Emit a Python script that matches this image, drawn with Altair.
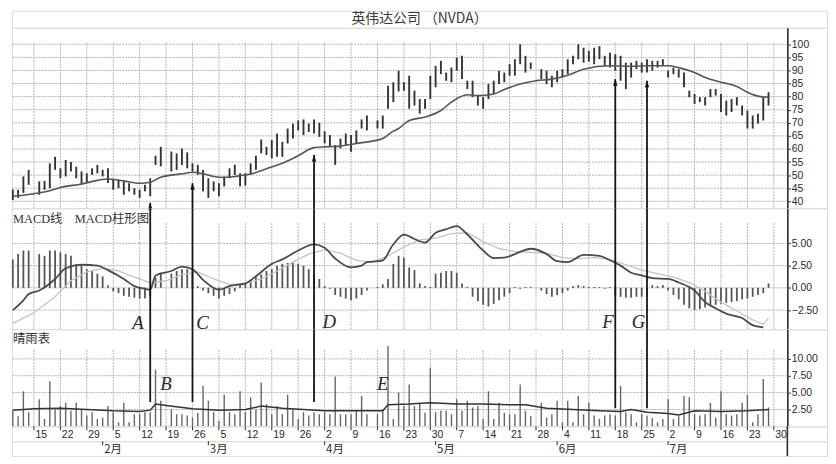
import altair as alt
import pandas as pd

# ---------------- data (trading-day index 0 = 2001-01-08, weekdays only) ----------------
TITLE = "英伟达公司 （NVDA）"
MACD_LABEL = "MACD线\u00a0\u00a0\u00a0\u00a0MACD柱形图"
BARO_LABEL = "晴雨表"
FIRST_IDX = 1

price_high = [44.5, 44.4, 49.5, 52.0, None, 47.6, 47.8, 54.5, 57.0, 52.6, 55.8, 55.0, 53.2, 51.4, 50.7, 52.6,
              53.9, 52.0, 52.6, 48.2, 48.2, 47.6, 46.9, 45.0, 44.4, 46.3, 48.8, 57.4, 60.8, None, 59.0, 58.3,
              60.2, 58.7, 54.5, 53.9, 52.0, 48.8, 47.6, 46.9, 49.5, 52.6, 54.0, 50.7, 50.7, 54.5, 57.4, 63.6,
              60.8, 63.4, 65.9, 62.7, 67.8, 69.7, 70.9, 71.3, 69.7, 71.3, 70.0, 66.8, 65.3, 61.5, 64.0, 65.9,
              65.3, 67.1, 71.3, 72.8, None, 70.9, 72.8, 84.2, 85.5, 89.9, 85.5, 88.0, 82.3, 79.1, 79.1, 88.0,
              91.8, 93.7, 89.2, 91.1, 94.9, 95.6, 86.1, 86.1, 80.4, 79.8, 84.8, 86.1, 89.9, 89.2, 92.4, 94.3,
              100.0, 95.6, 93.0, None, 90.5, 89.9, 88.0, 89.9, 90.5, 94.3, 95.6, 100.0, 98.7, 97.5, 98.7, 99.3,
              95.6, 96.8, 96.2, 95.6, 93.0, 93.0, 93.7, 93.0, 94.3, 93.7, 93.7, 94.3, 89.9, 91.1, 90.5, 89.2,
              82.3, 81.0, 79.8, 79.8, 82.9, 82.9, 81.0, 78.5, 79.1, 79.8, 76.6, 74.7, 72.8, 73.5, 79.8, 81.7]
price_low = [40.5, 41.3, 43.2, 46.3, None, 42.5, 44.4, 45.0, 52.0, 48.8, 49.5, 51.4, 48.8, 46.3, 47.0, 50.1,
             50.7, 49.5, 47.0, 44.4, 45.0, 42.5, 43.8, 42.5, 41.3, 43.8, 41.9, 53.9, 53.3, None, 51.4, 52.0,
             53.9, 52.6, 51.4, 50.1, 43.8, 41.3, 43.8, 41.9, 45.7, 48.8, 50.1, 45.7, 46.0, 50.1, 52.0, 58.3,
             57.7, 56.4, 57.0, 57.0, 62.1, 64.0, 67.1, 65.3, 66.5, 65.9, 64.6, 62.1, 60.8, 53.9, 60.2, 61.5,
             58.9, 62.1, 67.8, 67.1, None, 67.8, 67.8, 75.4, 77.9, 82.0, 82.3, 75.4, 76.6, 73.5, 75.4, 79.1,
             83.6, 88.6, 86.1, 85.5, 89.9, 86.7, 82.9, 79.8, 76.6, 75.4, 79.1, 81.1, 84.8, 85.5, 88.0, 88.0,
             92.4, 89.2, 90.5, None, 86.7, 84.8, 83.6, 85.5, 87.3, 88.6, 92.4, 94.3, 93.0, 93.4, 92.4, 94.3,
             91.8, 91.1, 89.9, 86.1, 82.9, 87.3, 90.5, 89.2, 89.2, 89.9, 91.1, 91.8, 87.3, 88.6, 87.3, 83.6,
             79.8, 77.2, 77.9, 76.6, 79.8, 80.4, 74.1, 72.8, 74.1, 76.6, 72.8, 67.8, 67.8, 69.7, 70.9, 76.6]

ma_idx = [1, 5, 8, 10, 14, 17, 19, 22, 25, 27, 29, 33, 35, 37, 39, 41, 43, 46, 49, 52, 55, 58, 61, 63, 66,
          69, 71, 73, 74, 76, 79, 82, 84, 87, 89, 92, 94, 97, 100, 103, 106, 109, 114, 118, 121, 125, 127,
          130, 132, 135, 138, 140, 142, 144]
ma_val = [41.9, 42.9, 44.0, 45.3, 46.6, 48.0, 48.5, 47.8, 46.9, 47.3, 49.2, 50.5, 51.1, 50.5, 49.5, 49.1,
          49.5, 50.4, 52.4, 54.5, 57.4, 60.5, 60.9, 61.1, 62.1, 63.0, 64.0, 66.8, 67.8, 70.9, 72.2, 74.7,
          77.9, 80.7, 80.4, 81.0, 82.7, 84.8, 86.1, 86.7, 88.2, 90.5, 91.8, 91.6, 91.8, 91.8, 91.1, 89.2,
          87.3, 85.5, 83.9, 81.7, 80.2, 79.8]

macd_idx = [1, 3, 4, 6, 9, 11, 14, 17, 19, 22, 24, 26, 27, 28, 31, 33, 35, 37, 40, 42, 45, 47, 50, 52, 55,
            58, 60, 62, 65, 67, 68, 70, 71, 73, 75, 76, 77, 79, 81, 83, 85, 87, 90, 92, 94, 97, 99, 102, 104,
            106, 109, 112, 114, 116, 118, 120, 122, 125, 127, 130, 132, 134, 136, 139, 141, 143]
macd_val = [-2.5, -1.4, -0.7, -0.3, 1.0, 2.2, 2.6, 2.5, 2.0, 1.0, 0.2, -0.1, -0.2, 1.4, 1.9, 2.4, 2.1, 0.9,
            -0.2, 0.2, 0.5, 1.3, 2.7, 3.2, 4.2, 4.9, 4.5, 3.3, 2.3, 2.5, 2.9, 3.0, 3.1, 4.9, 6.0, 5.8, 5.5,
            5.1, 6.2, 6.6, 6.95, 6.0, 4.2, 3.35, 3.4, 4.05, 4.4, 3.8, 3.0, 2.9, 3.7, 3.6, 3.1, 2.5, 1.7, 1.4,
            1.1, 1.0, 0.6, -0.3, -1.6, -2.3, -2.9, -3.4, -4.2, -4.45]

signal_idx = [1, 5, 9, 12, 15, 18, 21, 24, 27, 30, 33, 36, 39, 42, 45, 48, 51, 54, 57, 60, 63, 66, 69, 72,
              75, 78, 81, 84, 87, 90, 93, 96, 99, 102, 105, 108, 111, 114, 117, 120, 123, 126, 129, 132,
              135, 138, 141, 143, 144]
signal_val = [-4.0, -2.8, -1.0, 0.8, 1.8, 2.2, 1.9, 1.2, 0.6, 0.8, 1.5, 1.8, 1.0, 0.4, 0.5, 1.0, 1.9, 2.9,
              3.8, 4.3, 3.9, 3.1, 2.9, 3.6, 4.6, 5.4, 5.6, 6.1, 6.2, 5.2, 4.4, 4.1, 4.0, 3.9, 3.4, 3.3, 3.4,
              3.2, 2.6, 2.0, 1.6, 1.2, 0.6, -0.4, -1.6, -2.6, -3.6, -4.1, -3.4]

hist_val = [3.2, 3.8, 4.2, 4.2, None, 3.8, 3.6, 4.2, 4.2, 4.0, 3.8, 3.6, 2.7, 2.5, 2.1, 1.9, 1.6, 1.3, 0.3,
            -0.4, -0.6, -0.9, -1.0, -1.1, -1.2, -1.2, -0.9, 1.2, 1.7, None, 1.6, 1.9, 2.1, 2.1, 1.9, 0.2,
            -0.3, -0.6, -0.9, -1.2, -0.9, -0.7, -0.4, 0.3, 0.5, 0.9, 1.2, 1.5, 1.9, 2.1, 2.5, 2.7, 2.8, 2.8,
            2.7, 2.5, 2.1, 1.6, 1.0, 0.2, -0.1, -0.8, -1.0, -1.2, -1.4, -1.2, -0.8, -0.3, None, 0.1, 0.4, 1.0,
            2.7, 3.6, 3.4, 2.3, 2.0, 0.5, 0.2, 0.1, 1.6, 1.7, 1.9, 1.9, 1.7, 0.5, 0.1, -1.0, -1.5, -1.9, -2.1,
            -1.8, -1.4, -1.0, -0.6, 0.1, -0.1, 0.1, 0.1, None, -0.3, -0.7, -1.0, -0.8, -0.6, -0.3, 0.2, 0.3,
            0.2, 0.1, 0.1, 0.1, -0.1, 0.1, -0.9, -1.0, -1.1, -1.1, -1.0, -1.0, -1.0, 0.3, 0.2, 0.3, -0.3,
            -0.8, -1.3, -1.9, -2.3, -2.5, -2.4, -2.2, -2.0, -1.9, -1.8, -1.7, -1.6, -1.5, -1.3, -1.2, -1.0,
            -0.8, -0.6, 0.5]

baro_val = [2.3, 1.5, 5.2, 2.1, None, 4.0, 1.1, 6.7, 2.5, 3.0, 3.5, 2.3, 3.5, 2.5, 1.6, 2.1, 1.1, 1.3, 3.0,
            2.1, 0.6, 3.5, 0.6, 1.8, 1.8, 2.1, 2.1, 8.4, 3.8, None, 2.5, 1.8, 1.8, 1.6, 1.3, 2.0, 6.0, 3.8,
            2.1, 0.8, 4.7, 2.1, 1.8, 5.2, 2.1, 4.3, 2.5, 6.5, 3.3, 1.8, 3.0, 1.8, 4.7, 2.5, 1.1, 2.1, 1.6,
            2.1, 1.8, 2.1, 1.8, 7.4, 1.8, 1.8, 1.8, 2.3, 4.5, 1.8, None, 1.8, 2.5, 11.9, 1.1, 5.0, 3.0, 6.2,
            3.0, 3.5, 2.0, 8.7, 2.1, 2.3, 2.3, 1.8, 4.0, 2.3, 3.8, 2.8, 3.0, 1.1, 5.2, 1.1, 3.5, 2.0, 1.8,
            1.8, 6.2, 2.3, 1.5, None, 3.5, 1.3, 1.8, 3.8, 0.6, 3.8, 0.6, 4.5, 1.8, 3.5, 1.6, 1.1, 1.6, 1.8,
            1.6, 6.0, 2.1, 1.8, 0.6, 1.8, 1.6, 1.2, 0.6, 1.1, 4.0, 1.1, 1.5, 4.5, 4.3, 1.8, 1.6, 1.8, 3.5,
            1.3, 5.2, 1.8, 1.6, 1.8, 3.5, 4.7, 0.6, 1.8, 7.0, 2.8]

baro_line_idx = [1, 5, 10, 15, 20, 25, 27, 28, 30, 35, 40, 45, 48, 52, 56, 60, 65, 71, 72, 76, 80, 85, 90,
                 95, 98, 102, 107, 112, 116, 118, 121, 125, 127, 130, 135, 140, 144]
baro_line_val = [2.4, 2.6, 2.7, 2.5, 2.3, 2.2, 2.4, 3.3, 3.1, 2.6, 2.4, 2.5, 3.0, 2.7, 2.5, 2.3, 2.3, 2.3,
                 3.2, 3.3, 3.5, 3.3, 3.3, 3.2, 3.2, 2.7, 2.5, 2.3, 2.2, 2.5, 2.1, 1.9, 1.7, 2.3, 2.2, 2.3, 2.5]

week_idx = [5, 10, 15, 20, 25, 30, 35, 40, 45, 50, 55, 60, 65, 70, 75, 80, 85, 90, 95, 100, 105, 110, 115,
            120, 125, 130, 135, 140, 145]
day_labels = ["15", "22", "29", "5", "12", "19", "26", "5", "12", "19", "26", "2", "9", "16", "23", "30",
              "7", "14", "21", "28", "4", "11", "18", "25", "2", "9", "16", "23", "30"]
month_idx = [18, 38, 60, 81, 104, 125]
month_labels = ["2月", "3月", "4月", "5月", "6月", "7月"]

price_ticks = [40, 45, 50, 55, 60, 65, 70, 75, 80, 85, 90, 95, 100]
macd_ticks = [-2.5, 0.0, 2.5, 5.0]
baro_ticks = [2.5, 5.0, 7.5, 10.0]

arrow_idx = [27, 35, 58, 115, 121]
arrow_tip = [39.4, 46.9, 57.7, 86.7, 86.1]
arrow_base = [3.6, 3.6, 3.6, 2.7, 2.7]

macd_letters = ["A", "C", "D", "F", "G"]
macd_letter_idx = [24.7, 36.9, 60.9, 113.6, 119.4]
macd_letter_val = [-3.95, -3.95, -3.8, -3.8, -3.8]
baro_letters = ["B", "E"]
baro_letter_idx = [30.0, 71.0]
baro_letter_val = [6.2, 6.2]

# ---------------- layout constants ----------------
W = 822
PLOT_W = 782
H_TITLE, H_PRICE, H_MACD, H_BARO, H_ROW = 17, 182, 122, 98, 15
PX_DAY = 5.33
X_MIN = 0.84
X_MAX = X_MIN + W / PX_DAY
AXIS_X = X_MIN + PLOT_W / PX_DAY

P_MIN, P_MAX, P_GRID_TOP = 37.35, 106.33, 101.0
M_MIN, M_MAX, M_GRID_TOP = -4.65, 8.96, 7.3
B_MIN, B_MAX, B_GRID_TOP = 0.0, 14.4, 11.4

INK = "#2a2a2a"
GRID = "#b4b4b4"
NUM_FONT = "Liberation Sans Narrow, Liberation Sans, Arial"
CJK_FONT = "Noto Sans CJK SC"
SERIF = "Liberation Serif, Noto Sans CJK SC"

# ---------------- frames ----------------
days = list(range(FIRST_IDX, FIRST_IDX + len(price_high)))
price_df = pd.DataFrame({"i": days, "high": price_high, "low": price_low}).dropna()
ma_df = pd.DataFrame({"i": ma_idx, "v": ma_val})
macd_df = pd.DataFrame({"i": macd_idx, "v": macd_val})
sig_df = pd.DataFrame({"i": signal_idx, "v": signal_val})
hist_df = pd.DataFrame({"i": days, "v": hist_val}).dropna()
baro_df = pd.DataFrame({"i": days, "v": baro_val}).dropna()
bline_df = pd.DataFrame({"i": baro_line_idx, "v": baro_line_val})
weeks_df = pd.DataFrame({"i": week_idx, "label": day_labels})
months_df = pd.DataFrame({"i": month_idx, "label": month_labels})
arrows_df = pd.DataFrame({"i": arrow_idx, "tip": arrow_tip, "base": arrow_base})
mlet_df = pd.DataFrame({"i": macd_letter_idx, "v": macd_letter_val, "t": macd_letters})
blet_df = pd.DataFrame({"i": baro_letter_idx, "v": baro_letter_val, "t": baro_letters})

xs = alt.Scale(domain=[X_MIN, X_MAX], nice=False, zero=False)


def X(field="i"):
    return alt.X(field, type="quantitative", scale=xs, axis=None)


def yaxis(values, fmt):
    return alt.Axis(orient="right", offset=-(W - PLOT_W), values=values, format=fmt, grid=False,
                    domainColor=INK, domainWidth=1.6, tickColor=INK, tickSize=3, tickWidth=1,
                    labelFont=NUM_FONT, labelFontSize=10.5, labelColor=INK, labelPadding=1,
                    title=None, labelFlush=False, labelOverlap=False)


def grid_layers(ticks, ymin, ytop, yscale, yax):
    hdf = pd.DataFrame({"v": ticks})
    vgrid = alt.Chart(weeks_df).mark_rule(color=GRID, strokeWidth=1, strokeDash=[2, 1]).encode(
        x=X(), y=alt.YDatum(ymin, scale=yscale, axis=yax), y2=alt.Y2Datum(ytop))
    hgrid = alt.Chart(hdf).mark_rule(color=GRID, strokeWidth=1, strokeDash=[2, 1]).encode(
        y=alt.Y("v:Q", scale=yscale, axis=yax),
        x=alt.XDatum(X_MIN, scale=xs, axis=None), x2=alt.X2Datum(AXIS_X))
    return [vgrid, hgrid]


ARROW_SHAPE = "M0,0L-0.7,2.1L0.7,2.1Z"

# ---- title band ----
title_panel = alt.Chart(pd.DataFrame({"t": [TITLE]})).mark_text(
    font=CJK_FONT, fontSize=14, color="#3a3a3a", align="center", baseline="middle").encode(
    text="t:N", x=alt.value(411), y=alt.value(8.5)).properties(width=W, height=H_TITLE)

# ---- price panel ----
ys_p = alt.Scale(domain=[P_MIN, P_MAX], nice=False, zero=False)
yax_p = yaxis(price_ticks, "d")
p_layers = grid_layers(price_ticks, P_MIN, P_GRID_TOP, ys_p, yax_p)
p_layers.append(alt.Chart(price_df).mark_rule(color="#333", strokeWidth=1.9).encode(
    x=X(), y=alt.Y("low:Q", scale=ys_p, axis=yax_p), y2="high:Q"))
p_layers.append(alt.Chart(ma_df).mark_line(color="#555", strokeWidth=1.6, interpolate="monotone").encode(
    x=X(), y=alt.Y("v:Q", scale=ys_p, axis=yax_p)))
p_layers.append(alt.Chart(arrows_df).mark_rule(color="#151515", strokeWidth=1.8).encode(
    x=X(), y=alt.Y("tip:Q", scale=ys_p, axis=yax_p), y2=alt.Y2Datum(P_MIN)))
p_layers.append(alt.Chart(arrows_df).mark_point(shape=ARROW_SHAPE, filled=True, size=40, color="#151515",
                                                opacity=1).encode(
    x=X(), y=alt.Y("tip:Q", scale=ys_p, axis=yax_p)))
price_panel = alt.layer(*p_layers).properties(width=W, height=H_PRICE)

# ---- MACD panel ----
ys_m = alt.Scale(domain=[M_MIN, M_MAX], nice=False, zero=False)
yax_m = yaxis(macd_ticks, ".2f")
m_layers = grid_layers(macd_ticks, M_MIN, M_GRID_TOP, ys_m, yax_m)
m_layers.append(alt.Chart(hist_df).mark_rule(color="#555", strokeWidth=1.8).encode(
    x=X(), y=alt.Y("v:Q", scale=ys_m, axis=yax_m), y2=alt.Y2Datum(0)))
m_layers.append(alt.Chart(sig_df).mark_line(color="#c4c4c4", strokeWidth=1.3).encode(
    x=X(), y=alt.Y("v:Q", scale=ys_m, axis=yax_m)))
m_layers.append(alt.Chart(macd_df).mark_line(color="#4a4a4a", strokeWidth=1.8, interpolate="monotone").encode(
    x=X(), y=alt.Y("v:Q", scale=ys_m, axis=yax_m)))
m_layers.append(alt.Chart(arrows_df).mark_rule(color="#151515", strokeWidth=1.8).encode(
    x=X(), y=alt.YDatum(M_MIN, scale=ys_m, axis=yax_m), y2=alt.Y2Datum(M_MAX)))
m_layers.append(alt.Chart(mlet_df).mark_text(font=SERIF, fontStyle="italic", fontSize=19, color=INK,
                                             align="center", baseline="middle").encode(
    x=X(), y=alt.Y("v:Q", scale=ys_m, axis=yax_m), text="t:N"))
m_layers.append(alt.Chart(pd.DataFrame({"t": [MACD_LABEL]})).mark_text(
    font=SERIF, fontSize=12.5, color="#333", align="left", baseline="middle").encode(
    text="t:N", x=alt.value(1), y=alt.value(11)))
macd_panel = alt.layer(*m_layers).properties(width=W, height=H_MACD)

# ---- barometer panel ----
ys_b = alt.Scale(domain=[B_MIN, B_MAX], nice=False, zero=False)
yax_b = yaxis(baro_ticks, ".2f")
b_layers = grid_layers(baro_ticks, B_MIN, B_GRID_TOP, ys_b, yax_b)
b_layers.append(alt.Chart(baro_df).mark_rule(color="#666", strokeWidth=1.4).encode(
    x=X(), y=alt.Y("v:Q", scale=ys_b, axis=yax_b), y2=alt.Y2Datum(0)))
b_layers.append(alt.Chart(bline_df).mark_line(color="#333", strokeWidth=1.5).encode(
    x=X(), y=alt.Y("v:Q", scale=ys_b, axis=yax_b)))
b_layers.append(alt.Chart(arrows_df).mark_rule(color="#151515", strokeWidth=1.8).encode(
    x=X(), y=alt.Y("base:Q", scale=ys_b, axis=yax_b), y2=alt.Y2Datum(B_MAX)))
b_layers.append(alt.Chart(blet_df).mark_text(font=SERIF, fontStyle="italic", fontSize=19, color=INK,
                                             align="center", baseline="middle").encode(
    x=X(), y=alt.Y("v:Q", scale=ys_b, axis=yax_b), text="t:N"))
b_layers.append(alt.Chart(pd.DataFrame({"t": [BARO_LABEL]})).mark_text(
    font=CJK_FONT, fontSize=12.5, color="#333", align="left", baseline="middle").encode(
    text="t:N", x=alt.value(1), y=alt.value(10)))
baro_panel = alt.layer(*b_layers).properties(width=W, height=H_BARO)


# ---- date rows ----
def date_row(df, font, size):
    ticks = alt.Chart(df).mark_rule(color=INK, strokeWidth=1).encode(
        x=X(), y=alt.value(0), y2=alt.value(4))
    labels = alt.Chart(df).mark_text(font=font, fontSize=size, color=INK, align="left",
                                     baseline="middle", dx=1.5).encode(
        x=X(), y=alt.value(8.5), text="label:N")
    axis_line = alt.Chart(pd.DataFrame({"i": [AXIS_X]})).mark_rule(color=INK, strokeWidth=1.6).encode(
        x=X(), y=alt.value(0), y2=alt.value(H_ROW))
    return alt.layer(ticks, labels, axis_line).properties(width=W, height=H_ROW)


day_row = date_row(weeks_df, NUM_FONT, 10.5)
month_row = date_row(months_df, CJK_FONT, 11.5)

chart = alt.vconcat(title_panel, price_panel, macd_panel, baro_panel, day_row, month_row,
                    spacing=0, padding=0, bounds="flush").configure_view(
    stroke="#3a3a3a", strokeWidth=1.5).configure(background="white")

chart.save("out.html", embed_options={"renderer": "svg", "actions": False})
